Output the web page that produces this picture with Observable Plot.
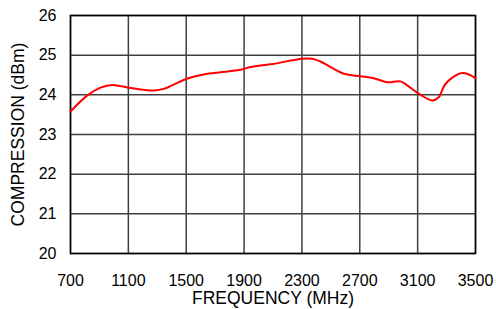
<!DOCTYPE html>
<html>
<head>
<meta charset="utf-8">
<script src="https://cdn.jsdelivr.net/npm/d3@7"></script>
<script src="https://cdn.jsdelivr.net/npm/@observablehq/plot@0.6"></script>
<style>
  html, body { margin: 0; padding: 0; background: #fff; }
</style>
</head>
<body>
<div id="chart"></div>
<script>
const freq = [700, 815, 907, 988, 1103, 1200, 1276, 1345, 1500, 1645, 1691, 1875, 1944, 2100, 2302, 2371, 2428, 2590, 2705, 2797, 2889, 2981, 3027, 3108, 3200, 3246, 3293, 3408, 3500];
const comp = [23.58, 23.98, 24.18, 24.25, 24.18, 24.13, 24.11, 24.15, 24.40, 24.53, 24.55, 24.63, 24.70, 24.78, 24.91, 24.91, 24.84, 24.53, 24.47, 24.42, 24.32, 24.34, 24.24, 24.03, 23.86, 23.94, 24.28, 24.55, 24.42];
const xTicks = [700, 1100, 1500, 1900, 2300, 2700, 3100, 3500];
const yTicks = [20, 21, 22, 23, 24, 25, 26];

const data = freq.map((f, i) => ({f, c: comp[i]}));

const chart = Plot.plot({
  width: 496,
  height: 309,
  marginLeft: 70,
  marginRight: 21,
  marginTop: 15,
  marginBottom: 56,
  style: {fontFamily: "'Liberation Sans', Arial, sans-serif", fontSize: "16px", color: "#000", background: "#fff"},
  x: {domain: [700, 3500]},
  y: {domain: [20, 26]},
  marks: [
    Plot.gridX(xTicks, {stroke: "#404040", strokeOpacity: 1, strokeWidth: 1.5}),
    Plot.gridY(yTicks, {stroke: "#404040", strokeOpacity: 1, strokeWidth: 1.5}),
    Plot.frame({stroke: "#000", strokeWidth: 1.5}),
    Plot.axisX(xTicks, {tickSize: 0, tickPadding: 21, tickFormat: d => String(d), label: null, fontSize: 16}),
    Plot.axisX([], {tickSize: 0, label: "FREQUENCY (MHz)", labelAnchor: "center", labelArrow: "none", labelOffset: 50, fontSize: 17.5}),
    Plot.axisY(yTicks, {tickSize: 0, tickPadding: 14, tickFormat: d => String(d), label: null, fontSize: 16}),
    Plot.axisY([], {tickSize: 0, label: "COMPRESSION (dBm)", labelAnchor: "center", labelArrow: "none", labelOffset: 59, fontSize: 17.5}),
    Plot.line(data, {x: "f", y: "c", curve: "catmull-rom", stroke: "#ff0000", strokeWidth: 2})
  ]
});
document.getElementById("chart").appendChild(chart);
</script>
</body>
</html>
